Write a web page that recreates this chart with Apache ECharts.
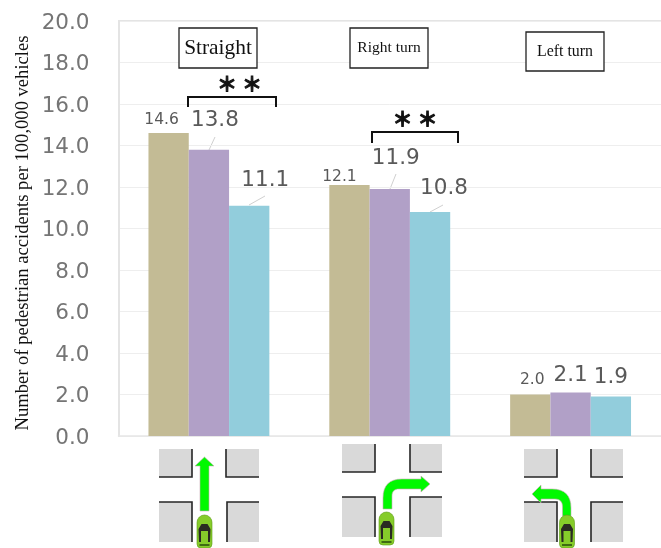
<!DOCTYPE html>
<html lang="en">
<head>
  <meta charset="UTF-8">
  <title>Pedestrian accidents by turning direction</title>
  <style>
    * { margin: 0; padding: 0; box-sizing: border-box; }
    body { background: #fff; }
    #chart { width: 661px; height: 548px; }
  </style>
</head>
<body>
  <div id="chart"></div>
  <script src="https://cdn.jsdelivr.net/npm/echarts@6/dist/echarts.min.js"></script>
  <script>
    const categories = ['Straight', 'Right turn', 'Left turn'];
    const seriesA = [14.6, 12.1, 2.0];
    const seriesB = [13.8, 11.9, 2.1];
    const seriesC = [11.1, 10.8, 1.9];
    const yTitle = 'Number of pedestrian accidents per 100,000 vehicles';

    const colors = ['#c3bb95', '#b1a0c7', '#92cddc'];
    // label tweaks per series / category: [dx, dy, fontSize]
    const labelTweaks = [
      [[-7, -1, 15.5], [-10, 4, 15.5], [2, -3, 15.5]],
      [[6, -14, 21.5], [6, -16, 21.5], [0, -2, 21.5]],
      [[16, -10, 21.5], [14, -8, 21.5], [0, -4, 21.5]]
    ];

    const chart = echarts.init(document.getElementById('chart'), null, { renderer: 'canvas' });

    function makeSeries(name, values, idx) {
      return {
        name: name,
        type: 'bar',
        barWidth: 40.3,
        barGap: 0,
        itemStyle: { color: colors[idx] },
        data: values.map(function (v, i) {
          const t = labelTweaks[idx][i];
          return {
            value: v,
            label: {
              show: true,
              position: 'top',
              distance: 4,
              offset: [t[0], t[1]],
              fontSize: t[2],
              formatter: v.toFixed(1),
              color: '#595959',
              fontFamily: 'DejaVu Sans'
            }
          };
        })
      };
    }

    // ---- annotations ----
    function line(x1, y1, x2, y2, color, width) {
      return { type: 'line', silent: true, shape: { x1: x1, y1: y1, x2: x2, y2: y2 }, style: { stroke: color, lineWidth: width } };
    }
    function box(x, y, w, h, label, size) {
      return [
        { type: 'rect', shape: { x: x, y: y, width: w, height: h }, style: { fill: '#fff', stroke: '#222', lineWidth: 1.3 }, z: 10 },
        { type: 'text', z: 11, style: { x: x + w / 2, y: y + h / 2, text: label, align: 'center', verticalAlign: 'middle', fill: '#111', font: size + 'px "Liberation Serif"' } }
      ];
    }
    function star(x, y) {
      return { type: 'text', z: 10, style: { x: x, y: y, text: '＊', align: 'center', verticalAlign: 'middle', fill: '#111', stroke: '#111', lineWidth: 1, font: 'bold 20px "Noto Sans CJK JP"' } };
    }
    function bracket(x1, x2, top, bottom, sx) {
      return [
        { type: 'polyline', z: 10, shape: { points: [[x1, bottom], [x1, top], [x2, top], [x2, bottom]] }, style: { stroke: '#111', lineWidth: 2, fill: null } },
        star(sx - 12.5, top - 13),
        star(sx + 12.5, top - 13)
      ];
    }
    // gray corner block with its two black kerb lines
    function block(x1, x2, y1, y2, cornerX, cornerY) {
      const farX = cornerX === x1 ? x2 : x1;
      const farY = cornerY === y1 ? y2 : y1;
      return [
        { type: 'rect', z: 5, shape: { x: x1, y: y1, width: x2 - x1, height: y2 - y1 }, style: { fill: '#d9d9d9' } },
        { type: 'polyline', z: 6, shape: { points: [[cornerX, farY], [cornerX, cornerY], [farX, cornerY]] }, style: { stroke: '#262626', lineWidth: 1.6, fill: null } }
      ];
    }
    // sampled quadratic curve for the bent arrows
    function curve(x0, y0, cx, cy, x1, y1) {
      const pts = [];
      for (let i = 0; i <= 8; i++) {
        const t = i / 8, u = 1 - t;
        pts.push([u * u * x0 + 2 * u * t * cx + t * t * x1, u * u * y0 + 2 * u * t * cy + t * t * y1]);
      }
      return pts;
    }
    function arrow(points) {
      return { type: 'polygon', z: 7, shape: { points: points }, style: { fill: '#00f900', stroke: '#c9a9b5', lineWidth: 0.6 } };
    }
    function car(cx, top) {
      return [
        { type: 'rect', z: 8, shape: { x: cx - 7.5, y: top, width: 15, height: 33, r: [7.5, 7.5, 4, 4] }, style: { fill: '#86cc2a', stroke: '#5c9a16', lineWidth: 0.6 } },
        { type: 'polygon', z: 9, shape: { points: [[cx - 6, top + 14], [cx - 3, top + 9], [cx + 3, top + 9], [cx + 6, top + 14], [cx + 5.5, top + 27], [cx + 3.5, top + 27], [cx + 3.5, top + 16], [cx - 3.5, top + 16], [cx - 3.5, top + 27], [cx - 5.5, top + 27]] }, style: { fill: '#2a2a22' } },
        { type: 'rect', z: 9, shape: { x: cx - 5, y: top + 29, width: 10, height: 2 }, style: { fill: '#3f6b12' } }
      ];
    }

    const graphics = [].concat(
      [{ type: 'text', rotation: Math.PI / 2, x: 23, y: 233, style: { x: 0, y: 0, text: yTitle, align: 'center', verticalAlign: 'middle', fill: '#111', font: '18.6px "Liberation Serif"' } }],
      line(118, 21, 661, 21, '#e4e4e4', 2),
      box(179, 28, 78, 40, categories[0], 21.4),
      box(350, 28, 78, 40, categories[1], 15.5),
      box(526, 32, 78, 39, categories[2], 15.9),
      bracket(188, 276, 97, 107, 239.5),
      bracket(372, 458, 132, 143, 415),
      // leader lines
      line(209, 150, 215, 137, '#d0d0d0', 1),
      line(249, 205, 265, 196, '#d0d0d0', 1),
      line(390, 189, 396, 174, '#d0d0d0', 1),
      line(430, 212, 443, 205, '#d0d0d0', 1),
      // straight
      block(159, 192, 449, 477, 192, 477),
      block(226, 259, 449, 477, 226, 477),
      block(159, 192, 502, 542, 192, 502),
      block(227, 259, 502, 542, 227, 502),
      arrow([[200, 511], [200, 466], [195, 466], [204.5, 457], [214, 466], [209, 466], [209, 511]]),
      car(204.5, 515),
      // right turn
      block(342, 375, 444, 472, 375, 472),
      block(410, 442, 444, 472, 410, 472),
      block(342, 375, 497, 537, 375, 497),
      block(410, 442, 497, 537, 410, 497),
      arrow([[383, 509]].concat(curve(383, 498, 383, 479, 402, 479), [[421, 479], [421, 476], [430, 484], [421, 492], [421, 489]], curve(399, 489, 392, 489, 392, 496), [[392, 509]])),
      car(386.5, 512),
      // left turn
      block(524, 557, 449, 477, 557, 477),
      block(591, 623, 449, 477, 591, 477),
      block(524, 557, 502, 542, 557, 502),
      block(591, 623, 502, 542, 591, 502),
      arrow([[571, 516]].concat(curve(571, 508, 571, 489, 552, 489), [[541, 489], [541, 485], [532, 494], [541, 503], [541, 499]], curve(555, 499, 562.5, 499, 562.5, 507), [[562.5, 516]])),
      car(567, 515)
    );

    chart.setOption({
      backgroundColor: '#fff',
      animation: false,
      grid: { left: 118.5, top: 21, width: 543, height: 415, containLabel: false },
      xAxis: {
        type: 'category',
        data: categories,
        axisTick: { show: false },
        axisLabel: { show: false },
        axisLine: { lineStyle: { color: '#e6e6e6', width: 1.5 } }
      },
      yAxis: {
        type: 'value',
        min: 0,
        max: 20,
        interval: 2,
        axisLine: { show: true, lineStyle: { color: '#e4e4e4', width: 2 } },
        axisTick: { show: false },
        splitLine: { lineStyle: { color: '#eeeeee', width: 1 } },
        axisLabel: {
          formatter: function (v) { return v.toFixed(1); },
          color: '#757575',
          fontSize: 21.5,
          fontFamily: 'DejaVu Sans',
          margin: 29,
          verticalAlign: 'top',
          lineHeight: 4
        }
      },
      series: [
        makeSeries('Series A', seriesA, 0),
        makeSeries('Series B', seriesB, 1),
        makeSeries('Series C', seriesC, 2)
      ],
      graphic: { elements: graphics }
    });
  </script>
</body>
</html>
